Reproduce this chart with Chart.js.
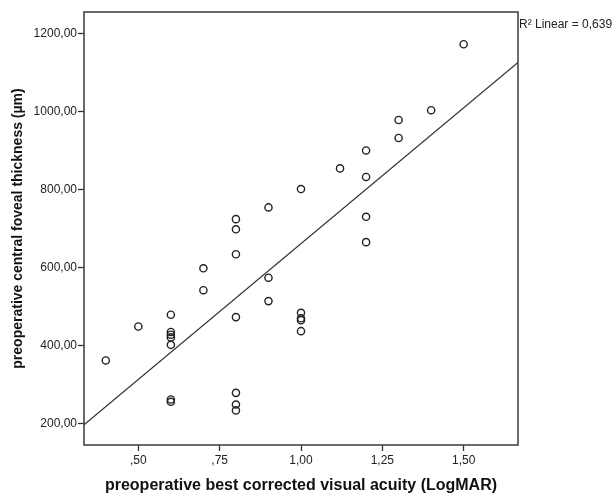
<!DOCTYPE html>
<html>
<head>
<meta charset="utf-8">
<script src="https://cdn.jsdelivr.net/npm/chart.js@4"></script>
<style>
  html, body { margin: 0; padding: 0; background: #fff; }
  #wrap { width: 613px; height: 498px; }
</style>
</head>
<body>
<div id="wrap"><canvas id="chart" width="613" height="498"></canvas></div>
<script>
// Preoperative BCVA (LogMAR) vs central foveal thickness (µm)
const bcva = [
    0.40, 0.50,
    0.60, 0.60, 0.60, 0.60, 0.60, 0.60, 0.60,
    0.70, 0.70,
    0.80, 0.80, 0.80, 0.80, 0.80, 0.80, 0.80,
    0.90, 0.90, 0.90,
    1.00, 1.00, 1.00, 1.00, 1.00,
    1.12,
    1.20, 1.20, 1.20, 1.20,
    1.30, 1.30,
    1.40, 1.50
];
const thickness = [
    362, 449,
    479, 435, 428, 421, 402, 262, 256,
    598, 542,
    724, 698, 634, 473, 279, 249, 234,
    754, 574, 514,
    801, 484, 470, 465, 437,
    854,
    900, 832, 730, 665,
    978, 932,
    1003, 1172
];

// linear fit
const fitIntercept = -34.7;
const fitSlope = 696;
const rSquaredLabel = 'R² Linear = 0,639';

const xTicks = [0.5, 0.75, 1.0, 1.25, 1.5];
const yTicks = [200, 400, 600, 800, 1000, 1200];
const xRange = [0.333, 1.667];
const yRange = [145.4, 1254.6];

const INK = '#222';
const FONT = '"Liberation Sans", Arial, sans-serif';

const points = bcva.map((x, i) => ({ x, y: thickness[i] }));
const fitLine = xRange.map(x => ({ x, y: fitIntercept + fitSlope * x }));

function fmtComma(v, digits) {
    let s = v.toFixed(digits).replace('.', ',');
    if (s.startsWith('0,')) s = s.slice(1);
    return s;
}

// frame around plot + R² note
const frameAndNote = {
    id: 'frameAndNote',
    afterDraw(chart) {
        const { ctx, chartArea: a } = chart;
        ctx.save();
        ctx.strokeStyle = '#3a3a3a';
        ctx.lineWidth = 1.5;
        ctx.strokeRect(a.left, a.top, a.right - a.left, a.bottom - a.top);
        ctx.fillStyle = INK;
        ctx.font = '12px ' + FONT;
        ctx.textBaseline = 'middle';
        ctx.textAlign = 'left';
        ctx.fillText(rSquaredLabel, a.right + 1, a.top + 13);
        ctx.restore();
    }
};

new Chart(document.getElementById('chart'), {
    type: 'scatter',
    data: {
        datasets: [
            {
                label: 'points',
                data: points,
                pointRadius: 3.6,
                pointBorderWidth: 1.4,
                pointBorderColor: '#222',
                pointBackgroundColor: 'rgba(255,255,255,0)',
                pointHoverRadius: 3.6
            },
            {
                label: 'fit',
                type: 'line',
                data: fitLine,
                borderColor: '#333',
                borderWidth: 1.3,
                pointRadius: 0,
                fill: false
            }
        ]
    },
    options: {
        responsive: false,
        animation: false,
        layout: { padding: { left: 0, top: 12, right: 95, bottom: 0 } },
        plugins: {
            legend: { display: false },
            tooltip: { enabled: false }
        },
        scales: {
            x: {
                type: 'linear',
                min: xRange[0],
                max: xRange[1],
                afterBuildTicks: s => { s.ticks = xTicks.map(v => ({ value: v })); },
                afterFit: s => { s.height = 53; },
                grid: { drawOnChartArea: false, tickLength: 6, tickColor: '#333', tickWidth: 1.3 },
                border: { display: false },
                ticks: {
                    color: INK,
                    padding: 2,
                    maxRotation: 0,
                    font: { family: FONT, size: 12 },
                    callback: v => fmtComma(v, 2)
                },
                title: {
                    display: true,
                    text: 'preoperative best corrected visual acuity (LogMAR)',
                    color: '#111',
                    padding: { top: 0, bottom: 3 },
                    font: { family: FONT, size: 16, weight: 'bold' }
                }
            },
            y: {
                type: 'linear',
                min: yRange[0],
                max: yRange[1],
                afterBuildTicks: s => { s.ticks = yTicks.map(v => ({ value: v })); },
                afterFit: s => { s.width = 84; },
                grid: { drawOnChartArea: false, tickLength: 6, tickColor: '#333', tickWidth: 1.3 },
                border: { display: false },
                ticks: {
                    color: INK,
                    padding: 1,
                    font: { family: FONT, size: 12 },
                    callback: v => fmtComma(v, 2)
                },
                title: {
                    display: true,
                    text: 'preoperative central foveal thickness (µm)',
                    color: '#111',
                    padding: { top: 10, bottom: 0 },
                    font: { family: FONT, size: 14, weight: 'bold' }
                }
            }
        }
    },
    plugins: [frameAndNote]
});
</script>
</body>
</html>
